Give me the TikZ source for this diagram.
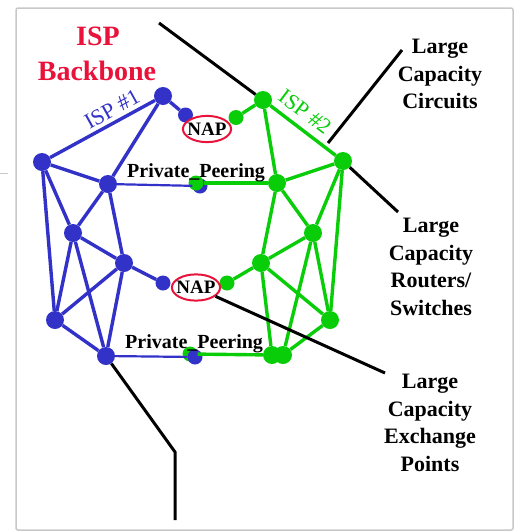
\documentclass[tikz,border=0pt]{standalone}
\usepackage{fontspec}
\setmainfont{Liberation Serif}
\usetikzlibrary{shapes.geometric}

\definecolor{ispblue}{RGB}{50,50,200}
\definecolor{ispgreen}{RGB}{10,205,10}
\definecolor{ispred}{RGB}{232,18,58}
\definecolor{framegray}{RGB}{200,200,200}

\begin{document}
\begin{tikzpicture}[x=1pt,y=-1pt,
  router/.style={circle,inner sep=0pt,minimum size=18pt},
  portdot/.style={circle,inner sep=0pt,minimum size=15pt},
  link/.style={line width=3.4pt},
  thinlink/.style={line width=2.2pt},
  pointer/.style={black,line width=3pt},
  nap/.style={ellipse,draw=ispred,line width=2pt,fill=white,
    inner xsep=-2.5pt,inner ysep=3pt,
    font=\bfseries\fontsize{19}{22}\selectfont},
  callout/.style={anchor=north,inner sep=0pt,align=center,
    font=\bfseries\fontsize{22}{27.8}\selectfont},
  peering/.style={anchor=base west,inner sep=0pt,
    font=\bfseries\fontsize{20}{22}\selectfont},
  isplabel/.style={inner sep=0pt,font=\fontsize{22}{24}\selectfont}]

\useasboundingbox (0,0) rectangle (517,531);
\fill[white] (0,0) rectangle (517,531);
\draw[framegray,line width=1.5pt,rounded corners=2pt] (16,8) rectangle (513,530);
\draw[framegray,line width=1pt] (0,173) -- (8,173);

% title
\node[inner sep=0pt,anchor=base,text=ispred,font=\bfseries\fontsize{28}{35}\selectfont] (title1) at (98,45) {ISP};
\node[inner sep=0pt,anchor=base,text=ispred,font=\bfseries\fontsize{28}{35}\selectfont] (title2) at (97,80) {Backbone};

% ISP #1 routers
\node[router,fill=ispblue] (b1) at (163,96) {};
\node[portdot,fill=ispblue] (b2) at (185.5,115) {};
\node[router,fill=ispblue] (b3) at (42,162) {};
\node[router,fill=ispblue] (b4) at (108,184) {};
\node[router,fill=ispblue] (b5) at (73,233) {};
\node[router,fill=ispblue] (b6) at (124,263) {};
\node[portdot,fill=ispblue] (b7) at (163,283) {};
\node[router,fill=ispblue] (b8) at (55,320) {};
\node[router,fill=ispblue] (b9) at (106,356) {};

% ISP #2 routers
\node[router,fill=ispgreen] (g1) at (263,100) {};
\node[portdot,fill=ispgreen] (g2) at (236,117.5) {};
\node[router,fill=ispgreen] (g3) at (343,161) {};
\node[router,fill=ispgreen] (g4) at (277,183) {};
\node[router,fill=ispgreen] (g5) at (313,233) {};
\node[router,fill=ispgreen] (g6) at (261,263) {};
\node[portdot,fill=ispgreen] (g7) at (227,283) {};
\node[router,fill=ispgreen] (g8) at (330,320) {};
\node[router,fill=ispgreen] (g9) at (272,355) {};
\node[router,fill=ispgreen] (g10) at (283,355) {};

% private peering ports
\node[portdot,fill=ispblue] (pb1) at (200,186) {};
\node[portdot,fill=ispgreen] (pg1) at (196,183) {};
\node[portdot,fill=ispgreen] (pg2) at (190,354) {};
\node[portdot,fill=ispblue] (pb2) at (195,357) {};

% ISP #1 links
\draw[link,ispblue] (b3) -- (b1);
\draw[link,ispblue] (b1) -- (b4);
\draw[link,ispblue] (b1) -- (b2);
\draw[link,ispblue] (b3) -- (b4);
\draw[link,ispblue] (b3) -- (b5);
\draw[link,ispblue] (b3) -- (b8);
\draw[link,ispblue] (b4) -- (b5);
\draw[link,ispblue] (b4) -- (b6);
\draw[link,ispblue] (b5) -- (b6);
\draw[link,ispblue] (b5) -- (b8);
\draw[link,ispblue] (b5) -- (b9);
\draw[link,ispblue] (b6) -- (b7);
\draw[link,ispblue] (b6) -- (b8);
\draw[link,ispblue] (b6) -- (b9);
\draw[link,ispblue] (b8) -- (b9);
\draw[thinlink,ispblue] (b4) -- (pb1);
\draw[thinlink,ispblue] (b9) -- (pb2);

% ISP #2 links
\draw[link,ispgreen] (g1) -- (g2);
\draw[link,ispgreen] (g1) -- (g3);
\draw[link,ispgreen] (g1) -- (g4);
\draw[link,ispgreen] (g3) -- (g4);
\draw[link,ispgreen] (g3) -- (g5);
\draw[link,ispgreen] (g3) -- (g8);
\draw[link,ispgreen] (g4) -- (g5);
\draw[link,ispgreen] (g4) -- (g6);
\draw[link,ispgreen] (g5) -- (g6);
\draw[link,ispgreen] (g5) -- (g8);
\draw[link,ispgreen] (g5) -- (g10);
\draw[link,ispgreen] (g6) -- (g7);
\draw[link,ispgreen] (g6) -- (g8);
\draw[link,ispgreen] (g6) -- (g9);
\draw[link,ispgreen] (g8) -- (g10);
\draw[link,ispgreen] (pg1) -- (g4);
\draw[link,ispgreen] (pg2) -- (g9);

% exchange points
\node[nap] (nap1) at (207,129) {NAP};
\node[nap] (nap2) at (196,287.5) {NAP};

% labels
\node[isplabel,text=ispblue,rotate=29] (isp1) at (112,109) {ISP \#1};
\node[isplabel,text=ispgreen,rotate=-37] (isp2) at (305,112) {ISP \#2};
\node[peering] (pp1) at (127,177) {Private\_Peering};
\node[peering] (pp2) at (125,348) {Private\_Peering};

\node[callout] (circuits) at (440,38.6) {Large\\Capacity\\Circuits};
\node[callout] (routers) at (431,217.6) {Large\\Capacity\\Routers/\\Switches};
\node[callout] (exchange) at (430,373.6) {Large\\Capacity\\Exchange\\Points};

% callout lines
\coordinate (backbonetip) at (159,23);
\coordinate (circuitstail) at (402,50);
\coordinate (circuitshead) at (328,143);
\coordinate (routerstail) at (398,212);
\coordinate (exchangetail) at (385,373);
\coordinate (bend) at (175,452);
\coordinate (foot) at (175,520);
\draw[pointer] (backbonetip) -- (g1);
\draw[pointer] (circuitstail) -- (circuitshead);
\draw[pointer] (g3) -- (routerstail);
\draw[pointer] (nap2) -- (exchangetail);
\draw[pointer] (b9) -- (bend) -- (foot);
\end{tikzpicture}
\end{document}
